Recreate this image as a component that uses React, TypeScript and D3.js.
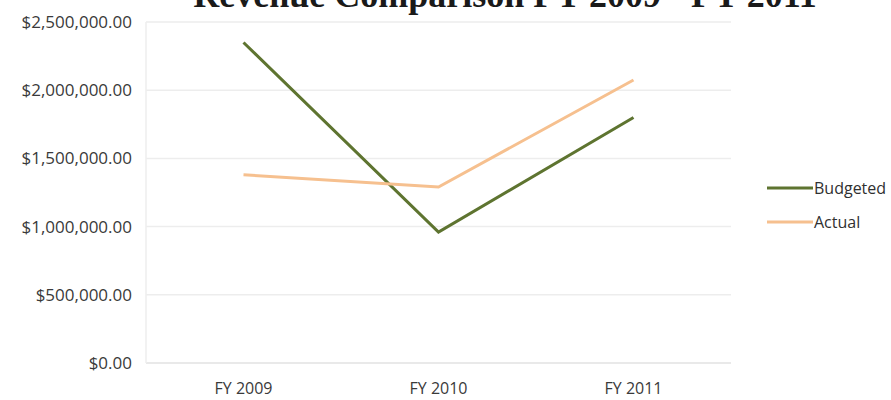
import React, { useEffect, useRef } from "react";
import * as d3 from "d3";

const categories = ["FY 2009", "FY 2010", "FY 2011"];
const budgeted = [2350000, 960000, 1800000];
const actual = [1380000, 1290000, 2075000];
const yTicks = [0, 500000, 1000000, 1500000, 2000000, 2500000];
const seriesNames = ["Budgeted", "Actual"];
const seriesColors = ["#5e7430", "#f6c08f"];
const title = "Revenue Comparison FY 2009 - FY 2011";

const W = 891;
const H = 400;

export default function App() {
  const ref = useRef<SVGSVGElement>(null);
  useEffect(() => {
    const svg = d3.select(ref.current);
    svg.selectAll("*").remove();
    const x = d3.scaleBand().domain(categories).range([146, 731]).padding(0);
    const y = d3.scaleLinear().domain([0, 2500000]).range([363, 22]);
    const fmt = (v: number) => "$" + d3.format(",.2f")(v);

    svg.append("rect").attr("width", W).attr("height", H).attr("fill", "#fff");

    svg.append("text")
      .attr("x", 505).attr("y", 7)
      .attr("text-anchor", "middle")
      .attr("font-family", "Liberation Serif, serif")
      .attr("font-weight", "bold")
      .attr("font-size", 36)
      .attr("fill", "#1a1a1a")
      .text(title);

    const g = svg.append("g");
    g.selectAll("line.grid").data(yTicks.slice(1)).join("line")
      .attr("x1", 146).attr("x2", 731)
      .attr("y1", d => y(d)).attr("y2", d => y(d))
      .attr("stroke", "#ededed").attr("stroke-width", 1.5);
    g.append("line").attr("x1", 146).attr("x2", 731).attr("y1", y(0)).attr("y2", y(0))
      .attr("stroke", "#e2e2e2").attr("stroke-width", 1.5);
    g.append("line").attr("x1", 146).attr("x2", 146).attr("y1", y(2500000)).attr("y2", y(0))
      .attr("stroke", "#eeeeee").attr("stroke-width", 1.5);

    g.selectAll("text.yl").data(yTicks).join("text")
      .attr("x", 132).attr("y", d => y(d))
      .attr("dy", "0.35em")
      .attr("text-anchor", "end")
      .attr("font-family", "Open Sans, sans-serif")
      .attr("font-size", 17)
      .attr("fill", "#3a3a3a")
      .text(d => fmt(d));

    g.selectAll("text.xl").data(categories).join("text")
      .attr("x", d => (x(d) as number) + x.bandwidth() / 2)
      .attr("y", 394)
      .attr("text-anchor", "middle")
      .attr("font-family", "Open Sans, sans-serif")
      .attr("font-size", 16)
      .attr("fill", "#3a3a3a")
      .text(d => d);

    const line = d3.line<number>()
      .x((_, i) => (x(categories[i]) as number) + x.bandwidth() / 2)
      .y(d => y(d));

    [budgeted, actual].forEach((s, i) => {
      g.append("path").attr("d", line(s) as string)
        .attr("fill", "none")
        .attr("stroke", seriesColors[i])
        .attr("stroke-width", 3);
    });

    seriesNames.forEach((n, i) => {
      const ly = 188 + i * 34;
      g.append("line").attr("x1", 767).attr("x2", 813).attr("y1", ly).attr("y2", ly)
        .attr("stroke", seriesColors[i]).attr("stroke-width", 3);
      g.append("text").attr("x", 814).attr("y", ly).attr("dy", "0.35em")
        .attr("font-family", "Open Sans, sans-serif")
        .attr("font-size", 16)
        .attr("fill", "#303030")
        .text(n);
    });
  }, []);
  return (
    <svg ref={ref} width={W} height={H}
      style={{ position: "absolute", left: 0, top: 0, display: "block" }} />
  );
}
